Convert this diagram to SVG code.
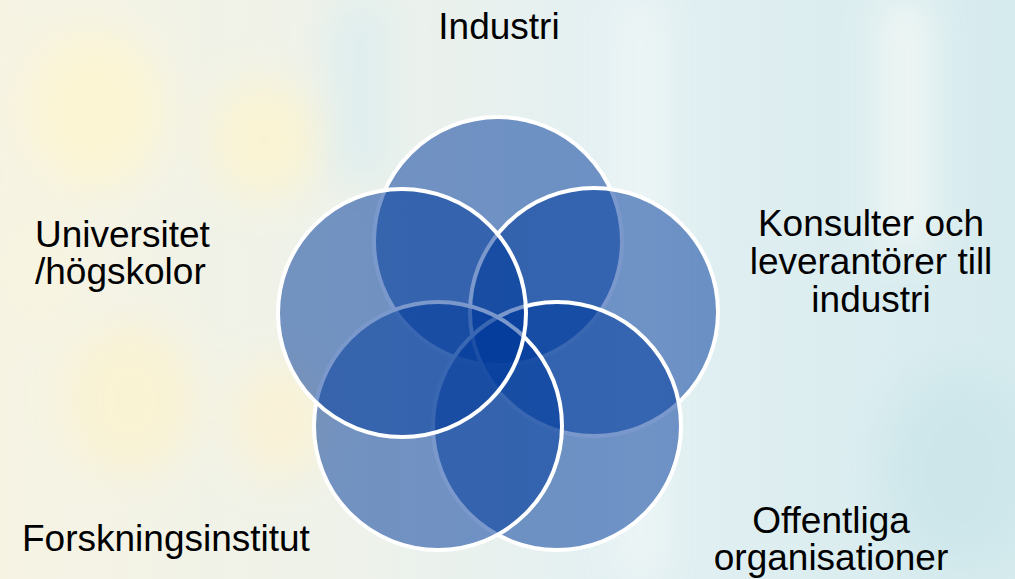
<svg xmlns="http://www.w3.org/2000/svg" width="1015" height="579" viewBox="0 0 1015 579">
  <defs>
    <linearGradient id="bg" x1="0" y1="0" x2="1" y2="0">
      <stop offset="0" stop-color="#f6f3e3"/>
      <stop offset="0.35" stop-color="#eef2ea"/>
      <stop offset="0.6" stop-color="#e3f0f2"/>
      <stop offset="1" stop-color="#d6ebee"/>
    </linearGradient>
    <filter id="blur" x="-50%" y="-50%" width="200%" height="200%">
      <feGaussianBlur stdDeviation="20"/>
    </filter>
    <style>
      .c { fill: rgb(0,58,155); fill-opacity: 0.52; stroke: #ffffff; stroke-width: 4; }
      .t { font-family: "Liberation Sans", Arial, sans-serif; font-size: 37px; fill: #000000; }
      .m { text-anchor: middle; }
    </style>
  </defs>

  <g id="background">
    <rect x="0" y="0" width="1015" height="579" fill="url(#bg)"/>
    <g filter="url(#blur)" opacity="0.85">
      <ellipse cx="95" cy="110" rx="70" ry="80" fill="#fdf6d2"/>
      <ellipse cx="265" cy="140" rx="55" ry="60" fill="#fcf4d0"/>
      <ellipse cx="130" cy="400" rx="65" ry="75" fill="#fbf3d0"/>
      <ellipse cx="280" cy="420" rx="50" ry="60" fill="#faf2d4"/>
      <ellipse cx="40" cy="270" rx="40" ry="60" fill="#f8f4e0"/>
      <rect x="620" y="0" width="40" height="579" fill="#f2f8f8"/>
      <rect x="880" y="0" width="50" height="250" fill="#f4f8f5"/>
      <rect x="330" y="0" width="60" height="180" fill="#dcedef"/>
      <ellipse cx="960" cy="470" rx="80" ry="100" fill="#cce6ea"/>
    </g>
  </g>

  <g id="node-industri">
    <circle class="c" cx="498" cy="241" r="124"/>
    <text class="t m" x="499" y="39">Industri</text>
  </g>
  <g id="node-konsulter">
    <circle class="c" cx="594" cy="312" r="124"/>
    <text class="t m" x="871" y="236">Konsulter och</text>
    <text class="t m" x="871" y="274">leverantörer till</text>
    <text class="t m" x="871" y="312">industri</text>
  </g>
  <g id="node-offentliga">
    <circle class="c" cx="557" cy="426" r="124"/>
    <text class="t m" x="831" y="533">Offentliga</text>
    <text class="t m" x="831" y="570">organisationer</text>
  </g>
  <g id="node-forskning">
    <circle class="c" cx="438" cy="426" r="124"/>
    <text class="t" x="22" y="551">Forskningsinstitut</text>
  </g>
  <g id="node-universitet">
    <circle class="c" cx="402" cy="313" r="124"/>
    <text class="t" x="35" y="247">Universitet</text>
    <text class="t" x="35" y="284">/högskolor</text>
  </g>
  <g id="connectors"/>
</svg>
